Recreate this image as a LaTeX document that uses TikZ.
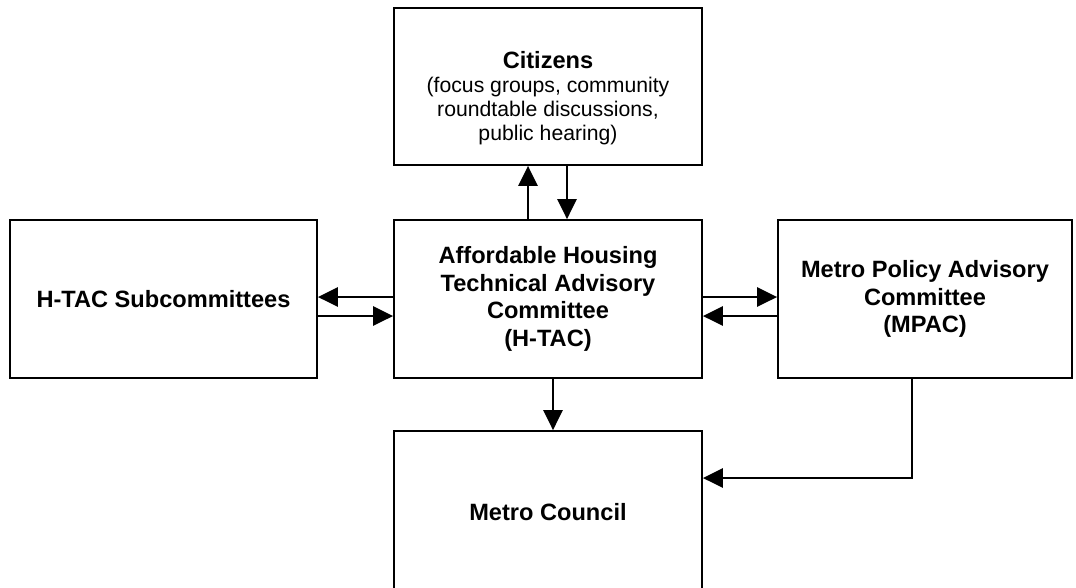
\documentclass[tikz,border=0pt]{standalone}
\usepackage{fontspec}
\setmainfont{Liberation Sans}
\usetikzlibrary{arrows.meta, positioning}
\tikzset{
  >={Triangle[length=15pt,width=14.5pt]},
  % Riquadri
  box/.style={draw,line width=1.4pt,rectangle,inner sep=0pt,align=center,
    font=\fontsize{17.7}{20.6}\selectfont\bfseries},
  % Connessioni
  flow/.style={->,line width=1.4pt}
}

\begin{document}
\begin{tikzpicture}[x=0.75pt,y=-0.75pt]
  \useasboundingbox (0,0) rectangle (1076,587);
  % riquadri
  \node[box,minimum width=231pt,minimum height=117.75pt,
    label={[align=center,yshift=-8.6pt,font=\fontsize{15.9}{18}\selectfont]center:
      {\fontsize{17.7}{21}\selectfont\bfseries Citizens}\\(focus groups, community\\roundtable discussions,\\public hearing)}]
    (citizens) at (548,86.5) {};
  \node[box,minimum width=231pt,minimum height=118.5pt] (htac) at (548,299)
    {Affordable Housing\\Technical Advisory\\Committee\\(H-TAC)};
  \node[box,minimum width=230.25pt,minimum height=118.5pt] (subcom) at (163.5,299)
    {H-TAC Subcommittees};
  \node[box,minimum width=220.5pt,minimum height=118.5pt] (mpac) at (925,299)
    {Metro Policy Advisory\\Committee\\(MPAC)};
  \node[box,minimum width=231pt,minimum height=121.5pt] (council) at (548,512)
    {Metro Council};
  % frecce verso i cittadini
  \draw[flow] (htac.north -| 528,0) -- (citizens.south -| 528,0);
  \draw[flow] (citizens.south -| 567,0) -- (htac.north -| 567,0);
  % frecce laterali
  \draw[flow] (htac.west |- 0,297) -- (subcom.east |- 0,297);
  \draw[flow] (subcom.east |- 0,316) -- (htac.west |- 0,316);
  \draw[flow] (htac.east |- 0,297) -- (mpac.west |- 0,297);
  \draw[flow] (mpac.west |- 0,316) -- (htac.east |- 0,316);
  % verso il consiglio
  \draw[flow] (htac.south -| 553,0) -- (council.north -| 553,0);
  \draw[flow] (mpac.south -| 912,0) |- (council.east |- 0,478);
\end{tikzpicture}
\end{document}
